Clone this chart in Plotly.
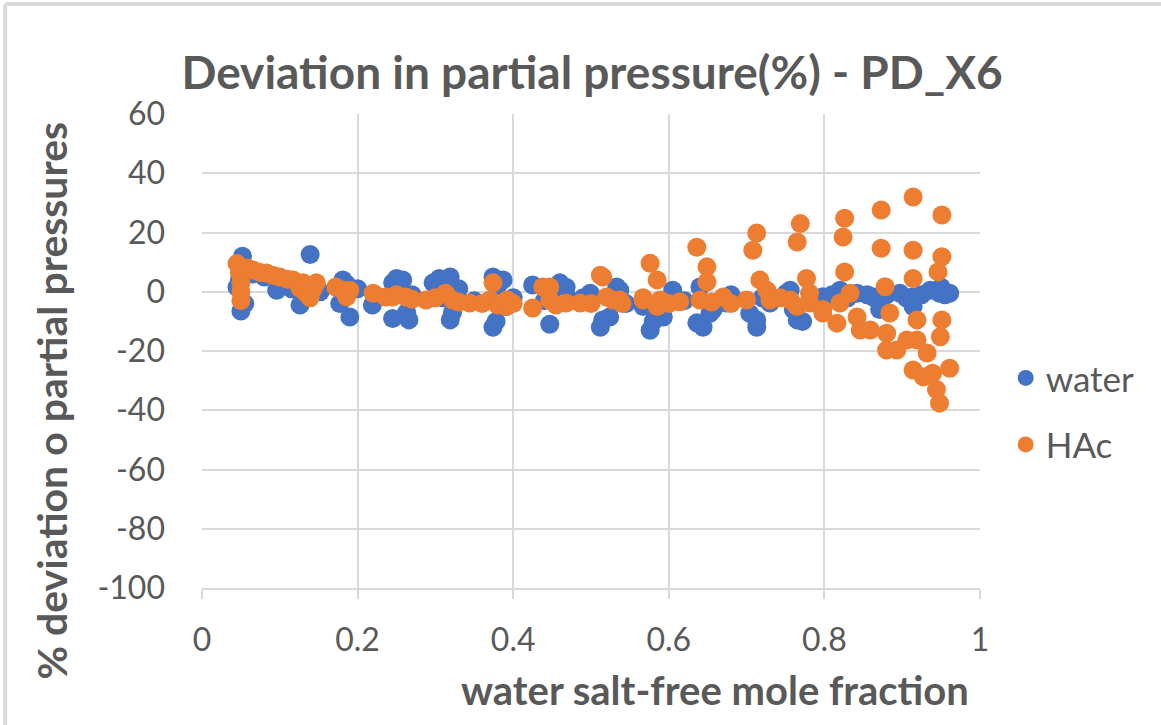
import plotly.graph_objects as go

# Water: salt-free mole fraction vs. % deviation of partial pressure
water_x = [0.045, 0.048, 0.050, 0.052, 0.050, 0.055, 0.065, 0.080, 0.096, 0.105,
           0.115, 0.126, 0.135, 0.139, 0.145, 0.152, 0.177, 0.181, 0.186, 0.190,
           0.200, 0.219, 0.222, 0.245, 0.245, 0.250, 0.258, 0.263, 0.266, 0.270,
           0.297, 0.305, 0.310, 0.319, 0.319, 0.322, 0.330, 0.350, 0.374, 0.374,
           0.378, 0.380, 0.387, 0.391, 0.400, 0.425, 0.440, 0.447, 0.452, 0.460,
           0.468, 0.473, 0.490, 0.499, 0.512, 0.515, 0.524, 0.533, 0.537, 0.545,
           0.567, 0.576, 0.580, 0.584, 0.593, 0.605, 0.620, 0.636, 0.640, 0.644,
           0.653, 0.657, 0.674, 0.680, 0.704, 0.713, 0.713, 0.720, 0.730, 0.751,
           0.756, 0.760, 0.765, 0.772, 0.790, 0.798, 0.810, 0.820, 0.830, 0.842,
           0.855, 0.862, 0.871, 0.880, 0.897, 0.905, 0.914, 0.914, 0.925, 0.936,
           0.948, 0.950, 0.955, 0.961]
water_dev = [1.5, 4.0, 8.0, 12.0, -6.5, -4.0, 6.0, 5.0, 0.5, 3.0,
             1.0, -4.5, -2.0, 12.6, 1.0, 0.0, -4.0, 4.0, 2.5, -8.5,
             1.0, -4.5, -1.0, 3.0, -9.0, 4.5, 4.0, -7.0, -9.5, -1.0,
             3.0, 4.5, -2.0, 5.0, -9.5, -7.0, 1.0, -3.0, 5.0, -12.0,
             -10.0, 2.0, 4.0, -5.0, -2.0, 2.3, -3.0, -11.0, 1.0, 3.0,
             1.5, -2.8, -2.0, -0.5, -12.0, -9.5, -8.5, 1.6, 0.5, -4.0,
             -5.0, -13.0, -10.0, -8.5, -8.5, 0.5, -3.0, -10.5, 1.6, -12.0,
             -7.3, -6.0, -3.8, -1.0, -7.3, -12.0, -9.5, -2.0, -3.8, -0.5,
             0.5, -6.0, -9.5, -10.0, -3.8, -1.7, -1.0, 0.5, -2.0, -0.5,
             -1.0, -1.7, -6.0, -1.0, -0.5, -2.0, -1.7, -5.0, -1.0, 0.5,
             -0.5, 1.5, -1.0, -0.5]

# Acetic acid (HAc)
hac_x = [0.045, 0.048, 0.050, 0.050, 0.050, 0.058, 0.066, 0.075, 0.083, 0.092,
         0.100, 0.110, 0.117, 0.126, 0.130, 0.134, 0.139, 0.143, 0.147, 0.172,
         0.181, 0.186, 0.190, 0.220, 0.236, 0.245, 0.250, 0.262, 0.270, 0.288,
         0.300, 0.313, 0.322, 0.330, 0.344, 0.360, 0.370, 0.374, 0.380, 0.390,
         0.392, 0.400, 0.425, 0.438, 0.447, 0.447, 0.455, 0.468, 0.486, 0.500,
         0.512, 0.515, 0.520, 0.528, 0.537, 0.540, 0.567, 0.567, 0.576, 0.585,
         0.585, 0.589, 0.600, 0.614, 0.636, 0.640, 0.649, 0.649, 0.655, 0.670,
         0.680, 0.700, 0.708, 0.713, 0.717, 0.726, 0.730, 0.743, 0.756, 0.765,
         0.765, 0.769, 0.777, 0.781, 0.781, 0.798, 0.798, 0.816, 0.820, 0.824,
         0.826, 0.826, 0.833, 0.842, 0.846, 0.859, 0.873, 0.873, 0.878, 0.880,
         0.880, 0.884, 0.893, 0.906, 0.914, 0.914, 0.914, 0.914, 0.919, 0.919,
         0.927, 0.932, 0.939, 0.944, 0.946, 0.948, 0.949, 0.951, 0.951, 0.951,
         0.961]
hac_dev = [9.5, 6.5, 3.0, 0.0, -3.0, 8.0, 7.3, 6.5, 6.3, 5.5,
           5.0, 4.2, 4.0, 1.2, 3.0, -0.5, -2.0, 1.0, 3.0, 1.6,
           0.5, -1.7, 0.5, -0.5, -1.8, -1.8, -1.0, -1.8, -2.5, -2.8,
           -2.0, -0.5, -2.8, -3.5, -3.8, -4.0, -2.8, 3.0, -4.5, -5.0,
           -2.8, -4.0, -5.5, 1.6, 1.6, -2.8, -4.5, -3.8, -3.8, -4.0,
           5.6, 5.0, -1.8, -2.8, -2.8, -4.0, -2.8, -2.0, 9.6, 4.0,
           -5.0, -2.8, -4.0, -3.4, 15.0, -2.8, 8.4, 3.3, -3.5, -1.8,
           -4.0, -2.8, 14.0, 19.8, 4.0, 0.5, -2.8, -2.0, -2.8, 16.8,
           -5.0, 23.0, 4.5, -0.5, -3.8, -6.0, -7.2, -10.6, -3.8, 18.5,
           24.8, 6.7, -0.5, -8.5, -12.9, -12.9, 27.6, 14.7, 1.7, -14.0,
           -19.7, -7.2, -19.7, -16.3, 32.0, 14.0, 4.5, -26.4, -9.5, -16.3,
           -28.7, -20.7, -27.5, -33.0, 6.7, -37.6, -15.2, 25.9, 11.8, -9.5,
           -25.8]

x_ticks = [0, 0.2, 0.4, 0.6, 0.8, 1]
x_ticklabels = ["0", "0.2", "0.4", "0.6", "0.8", "1"]
y_ticks = [60, 40, 20, 0, -20, -40, -60, -80, -100]
y_ticklabels = ["60", "40", "20", "0", "-20", "-40", "-60", "-80", "-100"]

GRID = "#d9d9d9"
TEXT = "#595959"
FONT = "Lato"

fig = go.Figure()
fig.add_trace(go.Scatter(
    x=water_x, y=water_dev, mode="markers", name="water",
    legendgroup="water",
    marker=dict(color="#4472C4", size=19, line=dict(width=0)),
))
fig.add_trace(go.Scatter(
    x=hac_x, y=hac_dev, mode="markers", name="HAc",
    legendgroup="hac",
    marker=dict(color="#ED7D31", size=19, line=dict(width=0)),
))

fig.update_layout(
    width=1161, height=725,
    margin=dict(l=202, r=181, t=114, b=137),
    paper_bgcolor="white", plot_bgcolor="white",
    font=dict(family=FONT, color=TEXT, size=32),
    title=dict(
        text="<b>Deviation in partial pressure(%) - PD_X6</b>",
        x=0.51, xanchor="center", y=0.9, yanchor="middle",
        font=dict(family=FONT, size=46, color=TEXT),
    ),
    showlegend=True,
    legend=dict(
        x=1.033, xanchor="left", y=0.505, yanchor="top",
        font=dict(family=FONT, size=35, color=TEXT),
        tracegroupgap=18, bgcolor="rgba(0,0,0,0)",
    ),
    xaxis=dict(
        range=[0, 1], tickvals=x_ticks, ticktext=x_ticklabels,
        showgrid=True, gridcolor=GRID, gridwidth=2,
        zeroline=False, showline=True, linecolor=GRID, linewidth=2,
        ticks="outside", ticklen=9, tickcolor=GRID, tickwidth=2,
        ticklabelstandoff=14,
        tickfont=dict(family=FONT, size=32, color=TEXT),
    ),
    yaxis=dict(
        range=[-100, 60], tickvals=y_ticks, ticktext=y_ticklabels,
        showgrid=True, gridcolor=GRID, gridwidth=2,
        zeroline=False, showline=False, ticks="",
        ticklabelstandoff=36,
        tickfont=dict(family=FONT, size=32, color=TEXT),
    ),
    annotations=[
        dict(text="<b>water salt-free mole fraction</b>",
             xref="paper", yref="paper", x=0.66, y=-0.215,
             xanchor="center", yanchor="middle", showarrow=False,
             font=dict(family=FONT, size=40, color=TEXT)),
        dict(text="<b>% deviation o partial pressures</b>",
             xref="paper", yref="paper", x=-0.193, y=0.395,
             xanchor="center", yanchor="middle", showarrow=False,
             textangle=-90,
             font=dict(family=FONT, size=41, color=TEXT)),
    ],
    shapes=[
        # chart frame (top and left edges)
        dict(type="line", xref="paper", yref="paper",
             x0=-0.253, x1=1.3, y0=1.232, y1=1.232,
             line=dict(color=GRID, width=4)),
        dict(type="line", xref="paper", yref="paper",
             x0=-0.253, x1=-0.253, y0=-0.35, y1=1.232,
             line=dict(color=GRID, width=4)),
    ],
)

fig.write_html("out.html")
